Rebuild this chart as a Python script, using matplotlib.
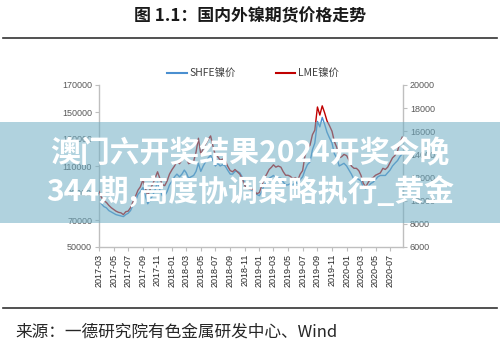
import matplotlib
matplotlib.use("Agg")
import matplotlib.pyplot as plt
import matplotlib.dates as mdates
from matplotlib.lines import Line2D
from matplotlib.patches import Rectangle
import pandas as pd

plt.rcParams['font.family'] = ['Noto Sans CJK SC', 'DejaVu Sans']

# Sampling dates: the 1st, 11th and 21st of each month, 2017-03 .. 2020-08
months = pd.period_range("2017-03", "2020-08", freq="M")
dates = [pd.Timestamp(year=m.year, month=m.month, day=d) for m in months for d in (1, 11, 21)]

# SHFE nickel futures price (CNY/t), left axis
shfe = [
    86000, 82000, 80000,   79000, 77000, 76000,   75000, 74000, 73500,
    73000, 72500, 74000,   75000, 77000, 81000,   84000, 89000, 91000,
    94000, 88000, 82000,   85000, 88000, 92000,   98000, 92000, 88000,
    88000, 91000, 96000,   99000, 102000, 104000, 102000, 104000, 107000,
    105000, 101000, 102000, 103000, 106000, 112000, 106000, 110000, 113000,
    116000, 118000, 114000, 110000, 112000, 110000, 111000, 110000, 107000,
    104000, 104000, 106000, 106000, 105000, 102000, 97000, 95000, 93000,
    92000, 91000, 89000,   88000, 91000, 96000,   98000, 101000, 102000,
    103000, 101000, 101000, 101000, 98000, 96000,  96000, 97000, 96000,
    98000, 97000, 100000,  102000, 107000, 111000, 113000, 122000, 127000,
    143000, 139000, 146000, 141000, 135000, 131000, 127000, 119000, 116000,
    110000, 111000, 112000, 110000, 107000, 104000, 100000, 101000, 100000,
    99000, 94000, 93000,   95000, 97000, 98000,   100000, 102000, 103000,
    103000, 103000, 105000, 107000, 110000, 112000, 114000, 117000, 119000,
]

# LME nickel price (USD/t), right axis
lme = [
    10800, 10300, 10000,   9850, 9600, 9400,     9250, 9100, 9000,
    8950, 8800, 9050,      9100, 9400, 9900,     10400, 10900, 11200,
    11800, 11100, 10400,   11000, 11400, 11900,  12500, 11900, 11400,
    11300, 11700, 12300,   12700, 13000, 13400,  13200, 13500, 13900,
    13700, 13200, 13300,   13400, 14200, 15400,  14000, 14500, 14900,
    15300, 15600, 14700,   13900, 13800, 13500,  13600, 13500, 13000,
    12600, 12500, 12700,   12500, 12300, 11900,  11300, 11100, 11000,
    11000, 10900, 10600,   10700, 11300, 11900,  12300, 12700, 12900,
    13100, 12900, 13000,   12900, 12500, 12200,  12200, 12100, 11900,
    12000, 11800, 12300,   12600, 13900, 14500,  14800, 15700, 16100,
    18100, 17400, 18200,   17600, 16900, 16500,  16000, 15100, 14600,
    13700, 13800, 14000,   13900, 13500, 13000,  12800, 12800, 12600,
    12200, 11500, 11200,   11600, 11900, 12000,  12200, 12300, 12400,
    12800, 12700, 12900,   13300, 13700, 13900,  14300, 15000, 15500,
]

series_names = ["SHFE镍价", "LME镍价"]
left_ticks = [50000, 70000, 90000, 110000, 130000, 150000, 170000]
right_ticks = [6000, 8000, 10000, 12000, 14000, 16000, 18000, 20000]

title_text = "图 1.1：国内外镍期货价格走势"
source_text = "来源：一德研究院有色金属研发中心、Wind"
banner_lines = ["澳门六开奖结果2024开奖今晚", "344期,高度协调策略执行_黄金"]

W, H = 500, 347
fig = plt.figure(figsize=(W / 100, H / 100), dpi=100)
fig.patch.set_facecolor("white")

ax = fig.add_axes([99 / W, 1 - 247 / H, (403 - 99) / W, (247 - 85) / H])
ax2 = ax.twinx()

blue = "#4a8fd0"
red = "#c00000"
ax.plot(dates, shfe, color=blue, lw=1.0, zorder=2)
ax2.plot(dates, lme, color=red, lw=1.0, zorder=2)

ax.set_ylim(50000, 170000)
ax2.set_ylim(6000, 20000)
ax.set_yticks(left_ticks)
ax2.set_yticks(right_ticks)
ax.set_xlim(pd.Timestamp("2017-03-01"), pd.Timestamp("2020-08-24"))
ax.xaxis.set_major_locator(mdates.MonthLocator(bymonth=[1, 3, 5, 7, 9, 11]))
ax.xaxis.set_major_formatter(mdates.DateFormatter("%Y-%m"))

grey = "#bfbfbf"
for a in (ax, ax2):
    a.set_facecolor("none")
    for s in a.spines.values():
        s.set_visible(False)
ax.spines["left"].set_visible(True)
ax.spines["bottom"].set_visible(True)
ax2.spines["right"].set_visible(True)
for s in (ax.spines["left"], ax.spines["bottom"], ax2.spines["right"]):
    s.set_color(grey)
    s.set_linewidth(1.0)

ax.tick_params(axis="y", length=3, color=grey, labelcolor="#595959", pad=2)
ax2.tick_params(axis="y", length=3, color=grey, labelcolor="#595959", pad=2)
ax.tick_params(axis="x", length=3, color=grey, labelcolor="#262626", pad=2,
               labelrotation=90)
for lab in ax.get_yticklabels() + ax2.get_yticklabels() + ax.get_xticklabels():
    lab.set_fontfamily("Liberation Sans")
    lab.set_fontsize(6.5)

# Legend above the plot
handles = [Line2D([], [], color=blue, lw=1.5), Line2D([], [], color=red, lw=1.5)]
fig.legend(handles, series_names, loc="center", ncol=2,
           bbox_to_anchor=(253 / W, 1 - 74 / H), frameon=False,
           fontsize=7.5, handlelength=1.9, handletextpad=0.25,
           columnspacing=3.8, labelcolor="#404040")

# Title and rules
fig.text(0.5, 1 - 16 / H, title_text, ha="center", va="center",
         fontsize=12.2, fontweight="bold", color="#1a1a1a")
fig.add_artist(Line2D([3 / W, 497 / W], [1 - 38 / H, 1 - 38 / H],
                      color="#333333", lw=1.2))
fig.add_artist(Line2D([3 / W, 497 / W], [1 - 307.5 / H, 1 - 307.5 / H],
                      color="#333333", lw=1.2))
fig.text(15 / W, 1 - 332 / H, source_text, ha="left", va="center",
         fontsize=12, color="#262626")

# Overlay banner
fig.add_artist(Rectangle((0, 1 - 223 / H), 1, (223 - 122) / H,
                         transform=fig.transFigure, facecolor="#6fadc3",
                         alpha=0.55, edgecolor="none", zorder=10))
fig.text(0.5, 1 - 153 / H, banner_lines[0], ha="center", va="center",
         fontsize=21.5, fontweight="bold", color="white", zorder=11)
fig.text(0.5, 1 - 191 / H, banner_lines[1], ha="center", va="center",
         fontsize=21.5, fontweight="bold", color="white", zorder=11)

fig.savefig("out.png", dpi=100)
